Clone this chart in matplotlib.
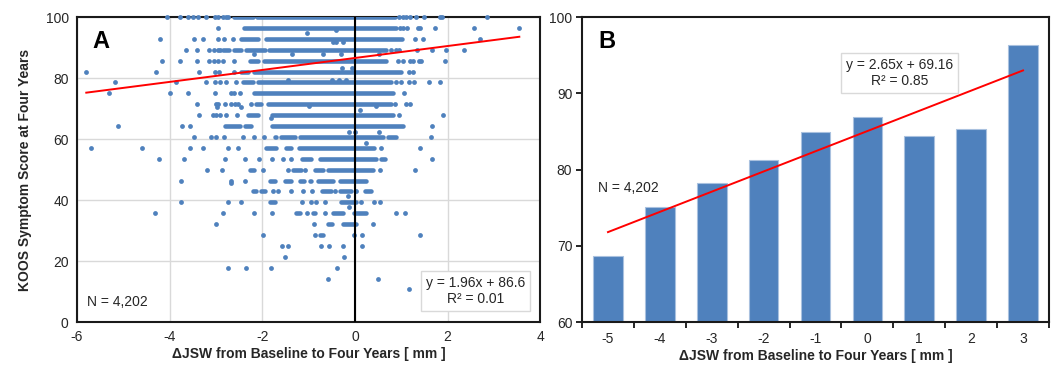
import matplotlib
matplotlib.use('Agg')
import matplotlib.pyplot as plt
from matplotlib.collections import LineCollection

plt.rcParams['font.family'] = ['Liberation Sans', 'DejaVu Sans']
plt.rcParams['axes.unicode_minus'] = False

# ---- panel A: KOOS symptom score vs change in JSW ----
# score levels (steps of 100/28); for each level the lone dots and the
# runs where dots overlap into a solid streak
koos_levels = [100, 96.43, 92.86, 89.29, 85.71, 82.14, 78.57, 75.0, 71.43, 67.86,
               64.29, 60.71, 57.14, 53.57, 50.0, 46.43, 42.86, 39.29, 35.71, 32.14,
               28.57, 25.0, 21.43, 17.86, 14.29, 10.71]

single_x = [
    [-4.05, -3.78, -3.6, -3.5, -3.39, -3.21, -3.03, -2.96, -2.85, -2.78, -2.74,
     0.96, 1.04, 1.11, 1.18, 1.31, 1.5, 1.84, 1.88, 2.85],
    [-2.96, 0.98, 1.04, 1.13, 1.36, 1.41, 1.72, 2.58, 3.55],
    [-4.2, -3.48, -3.29, -2.96, -2.83, -2.63, 1.3, 1.47, 2.71],
    [-3.65, -3.41, -3.15, -3.05, -2.96, -2.91, 0.78, 0.89, 0.95, 1.34, 1.67, 1.97, 2.35],
    [-4.17, -3.77, -3.41, -3.15, -3.05, -2.95, -2.85, -2.6, 0.93, 1.04, 1.18, 1.25,
     1.38, 1.42, 1.94],
    [-5.8, -4.3, -3.37, -3.02, -2.94, -2.6, 1.17, 1.25],
    [-5.18, -3.86, -3.21, -3.03, -2.92, -2.78, -2.56, 0.89, 1.0, 1.17, 1.27, 1.59, 1.83],
    [-5.3, -4.0, -3.6, -3.03, -2.68, -2.6, -2.49, 1.07],
    [-3.4, -3.0, -2.96, -2.8, -2.67, -2.58, -2.53, -2.24, 0.87, 1.11, 1.18],
    [-3.37, -3.06, -2.99, -2.92, -2.78, -2.55, 0.96, 1.91],
    [-5.11, -3.74, -3.56, 1.67],
    [-3.47, -3.1, -3.0, -2.83, -2.42, -2.17, -1.96, 1.65],
    [-5.7, -4.59, -3.56, -3.29, -2.74, -2.53, 0.57, 1.4],
    [-4.22, -3.7, -2.81, -2.38, -2.06, -1.8, -1.55, -1.37, 1.67],
    [-3.19, -2.87, -1.99, -1.45, -1.07, 0.55, 1.29],
    [-3.75, -2.67, -2.38],
    [-1.76, -1.66, -1.37, -1.12, -0.92, -0.44, 0.03],
    [-3.75, -2.74, -2.47, -1.14, -0.94, -0.83, -0.65, 0.14, 0.41, 0.55],
    [-4.31, -2.85, -2.17, -1.79, -1.03, -0.65, 0.88, 1.09],
    [-2.99, -0.89, 0.39],
    [-1.99, -0.87, -0.02, 0.15, 1.4],
    [-1.58, -1.45, -0.73, -0.56, -0.26, 0.15],
    [-1.52, -0.24],
    [-2.74, -2.35, -1.81, -0.38],
    [-0.58, 0.5],
    [1.17],
]

dense_runs = [
    [(-2.6, -2.2), (-2.12, 0.86)],
    [(-2.4, 0.89)],
    [(-2.45, -2.09), (-1.91, 1.02)],
    [(-2.85, -2.71), (-2.6, -2.45), (-2.35, -1.95), (-1.85, 0.68)],
    [(-2.27, -2.09), (-1.97, 0.68)],
    [(-2.45, -2.31), (-2.18, 1.0)],
    [(-2.42, -2.2), (-2.1, 0.78)],
    [(-2.17, 0.82)],
    [(-2.13, -2.02), (-1.88, 0.78)],
    [(-2.31, -2.09), (-1.78, 0.82)],
    [(-2.81, -2.49), (-2.38, -2.24), (-1.8, 1.04)],
    [(-1.73, -1.7), (-1.59, -1.3), (-1.19, 0.6), (0.71, 0.89)],
    [(-1.91, -1.7), (-1.48, -1.37), (-1.2, 0.42)],
    [(-1.15, -0.95), (-0.75, 0.46), (0.57, 0.64)],
    [(-2.27, -2.17), (-1.34, -1.16), (-0.87, -0.69), (-0.58, 0.39)],
    [(-1.84, -1.73), (-1.5, -1.39), (-1.19, -1.09), (-0.98, -0.94), (-0.8, -0.47), (-0.33, 0.24)],
    [(-2.2, -2.13), (-2.02, -1.95), (-0.7, -0.51), (-0.33, -0.08), (0.21, 0.35)],
    [(-1.84, -1.73), (-0.29, 0.03)],
    [(-1.27, -1.19), (-0.9, -0.87), (-0.47, -0.26), (-0.01, 0.23)],
    [(-0.58, -0.5), (-0.26, 0.03)],
    [(-0.76, -0.69)],
    [], [], [], [], [],
]

# dots that sit between the regular levels
extra_x = [-1.03, -0.4, -0.47, -0.4, -0.26, -2.18, -1.35, -0.69, -0.31, 0.52, -0.28, -0.06,
           -1.45, -0.5, -0.35, -0.2, -2.97, -2.45, -1.0, 0.1, 0.45, -1.82, -0.13, 0.0,
           0.53, 0.24, -2.67, -0.15, -0.13]
extra_y = [94.8, 95.7, 91.9, 91.9, 91.9, 87.9, 87.9, 87.9, 87.9, 87.9, 83.2, 83.2,
           79.4, 79.4, 79.4, 79.4, 70.6, 70.6, 70.8, 69.7, 70.8, 66.8, 62.4, 62.4,
           62.4, 58.6, 45.6, 41.5, 37.8]

fit_a = (1.96, 86.6)
fit_a_x = [-5.8, 3.55]

# ---- panel B: mean score per JSW bin ----
jsw_bins = ['-5', '-4', '-3', '-2', '-1', '0', '1', '2', '3']
mean_koos = [68.7, 75.1, 78.2, 81.3, 85.0, 86.9, 84.4, 85.3, 96.4]
fit_b = (2.65, 69.16)

blue = '#4F81BD'
txt = '#262626'

fig = plt.figure(figsize=(10.55, 3.72), dpi=100)
axA = fig.add_axes([0.073, 0.134, 0.439, 0.820])
axB = fig.add_axes([0.5517, 0.134, 0.4426, 0.820])

# panel A
sx, sy = [], []
segs = []
for lvl, xs, runs in zip(koos_levels, single_x, dense_runs):
    sx += xs
    sy += [lvl] * len(xs)
    segs += [[(a, lvl), (b, lvl)] for a, b in runs]
sx += extra_x
sy += extra_y

axA.scatter(sx, sy, s=12, color=blue, linewidths=0, zorder=3, clip_on=False)
axA.add_collection(LineCollection(segs, colors=blue, linewidths=3.3,
                                  capstyle='round', zorder=3))
axA.axvline(0, color='black', lw=1.5, zorder=4)
axA.plot(fit_a_x, [fit_a[0] * x + fit_a[1] for x in fit_a_x], color='red', lw=1.4, zorder=5)

axA.set_xlim(-6, 4)
axA.set_ylim(0, 100)
axA.set_xticks(range(-6, 5, 2))
axA.set_yticks(range(0, 101, 20))
axA.grid(True, color='#D9D9D9', lw=1)
axA.set_axisbelow(True)
axA.tick_params(axis='x', length=0, labelsize=10, labelcolor=txt, pad=6)
axA.tick_params(axis='y', length=0, labelsize=10, labelcolor=txt, pad=6)
for s in axA.spines.values():
    s.set_color('#1a1a1a')
    s.set_linewidth(1.5)
axA.set_xlabel('ΔJSW from Baseline to Four Years [ mm ]', fontsize=10, fontweight='bold',
               color=txt, labelpad=2)
axA.set_ylabel('KOOS Symptom Score at Four Years', fontsize=10, fontweight='bold',
               color=txt, labelpad=10)
axA.text(0.033, 0.92, 'A', transform=axA.transAxes, fontsize=17, fontweight='bold',
         va='center', ha='left')
axA.text(0.022, 0.065, 'N = 4,202', transform=axA.transAxes, fontsize=10, color=txt,
         va='center', ha='left')
axA.text(0.86, 0.102, 'y = 1.96x + 86.6\nR² = 0.01', transform=axA.transAxes,
         fontsize=10, color=txt, ha='center', va='center', multialignment='center',
         linespacing=1.2, zorder=6,
         bbox=dict(boxstyle='square,pad=0.35', fc='white', ec='#D9D9D9', lw=1))

# panel B
pos = list(range(1, len(jsw_bins) + 1))
axB.bar(pos, mean_koos, width=0.57, color=blue, edgecolor='#A9C1DF', linewidth=0.8,
        zorder=2)
axB.plot([pos[0], pos[-1]], [fit_b[0] * pos[0] + fit_b[1], fit_b[0] * pos[-1] + fit_b[1]],
         color='red', lw=1.4, zorder=3)
axB.set_xlim(0.5, len(jsw_bins) + 0.5)
axB.set_ylim(60, 100)
axB.set_yticks(range(60, 101, 10))
axB.set_xticks(pos)
axB.set_xticklabels(jsw_bins)
axB.set_xticks([p + 0.5 for p in range(0, len(jsw_bins) + 1)], minor=True)
axB.tick_params(axis='x', which='major', length=0, labelsize=10, labelcolor=txt, pad=7)
axB.tick_params(axis='x', which='minor', length=4, width=1.2, direction='out')
axB.tick_params(axis='y', length=4, width=1.2, direction='out', labelsize=10,
                labelcolor=txt, pad=3)
for s in axB.spines.values():
    s.set_color('#1a1a1a')
    s.set_linewidth(1.5)
axB.set_xlabel('ΔJSW from Baseline to Four Years [ mm ]', fontsize=10, fontweight='bold',
               color=txt, labelpad=2)
axB.text(0.034, 0.92, 'B', transform=axB.transAxes, fontsize=17, fontweight='bold',
         va='center', ha='left')
axB.text(0.034, 0.44, 'N = 4,202', transform=axB.transAxes, fontsize=10, color=txt,
         va='center', ha='left')
axB.text(0.68, 0.816, 'y = 2.65x + 69.16\nR² = 0.85', transform=axB.transAxes,
         fontsize=10, color=txt, ha='center', va='center', multialignment='center',
         linespacing=1.2, zorder=6,
         bbox=dict(boxstyle='square,pad=0.35', fc='white', ec='#D9D9D9', lw=1))

fig.savefig('out.png', dpi=100)
